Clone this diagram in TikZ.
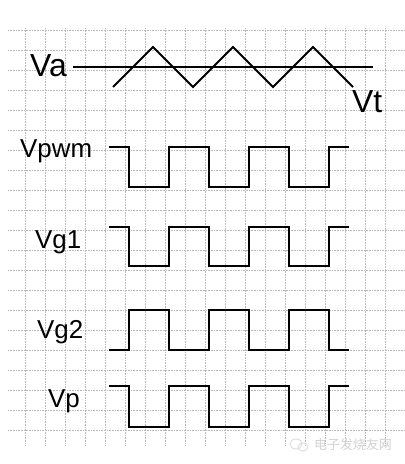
\documentclass[tikz,border=0pt]{standalone}
\usepackage{fontspec}
\setmainfont{Liberation Sans}
\newfontfamily\cjk{Noto Sans CJK SC}
\usepackage{tikz}

\begin{document}
\begin{tikzpicture}[x=1bp, y=-1bp,
      grid/.style={gray!55, densely dotted, line width=0.6bp},
      wave/.style={black, line width=1.9bp},
      lbl/.style={anchor=base west, inner sep=0pt, font=\fontsize{26}{30}\selectfont},
      biglbl/.style={anchor=base west, inner sep=0pt, font=\fontsize{32}{36}\selectfont}]
      \fill[white] (0, 0) rectangle (404, 464);
      \useasboundingbox (0, 0) rectangle (404, 464);
      \foreach \y in {30, 50, ..., 430}
        \draw[grid] (8, \y) -- (404, \y);
      \foreach \x in {25, 45, ..., 385}
        \draw[grid] (\x, 28) -- (\x, 446);
      \draw[wave] (73, 67) -- (373, 67);
      \draw[wave] (113, 87) -- (153, 47) -- (193, 87) -- (233, 47) -- (273, 87) -- (313, 47) -- (353, 87);
      \node[biglbl] (va) at (30, 77) {Va};
      \node[biglbl] (vt) at (352, 113) {Vt};
      \foreach \hi/\lo in {147/187, 227/266, 350/310, 386/427}
        \draw[wave] (109, \hi) -- (129, \hi) -- (129, \lo) -- (169, \lo) -- (169, \hi) -- (209, \hi)
          -- (209, \lo) -- (249, \lo) -- (249, \hi) -- (289, \hi) -- (289, \lo) -- (329, \lo)
          -- (329, \hi) -- (349, \hi);
      \node[lbl] (vpwm) at (20, 158) {Vpwm};
      \node[lbl] (vg1) at (35, 248) {Vg1};
      \node[lbl] (vg2) at (37, 338) {Vg2};
      \node[lbl] (vp) at (48, 407) {Vp};
      \draw[gray!25, line width=1bp] (296, 444) ellipse (6 and 5);
      \draw[gray!25, line width=1bp] (303, 447) ellipse (5 and 4);
      \node[anchor=west, inner sep=0pt, text=gray!35, font=\cjk\fontsize{13}{15}\selectfont] (mark) at (314, 445) {电子发烧友网};
\end{tikzpicture}
\end{document}
